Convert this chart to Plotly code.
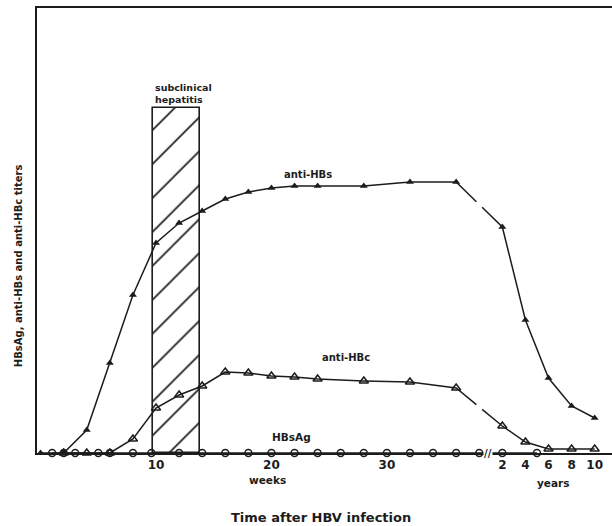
import plotly.graph_objects as go

# ---------------- data (titer in arbitrary relative units) ----------------
# weeks after infection
hbs_weeks = [0, 2, 4, 6, 8, 10, 12, 14, 16, 18, 20, 22, 24, 28, 32, 36]
anti_hbs_weeks_vals = [0, 0, 23, 90, 158, 210, 230, 242, 254, 261, 265, 267, 267, 267, 271, 271]
anti_hbs_years = [2, 4, 6, 8, 10]
anti_hbs_years_vals = [226, 133, 75, 47, 35]

hbc_weeks = [2, 4, 6, 8, 10, 12, 14, 16, 18, 20, 22, 24, 28, 32, 36]
anti_hbc_weeks_vals = [0, 0, 0, 14, 45, 58, 67, 81, 80, 77, 76, 74, 72, 71, 65]
anti_hbc_years = [2, 4, 6, 8, 10]
anti_hbc_years_vals = [27, 11, 4, 4, 4]

hbsag_weeks = [1, 2, 3, 5, 6, 8, 9.6, 12, 14, 16, 18, 20, 22, 24, 26, 28, 30, 32, 34, 36, 38]
hbsag_weeks_vals = [0] * len(hbsag_weeks)
hbsag_years = [2, 5]
hbsag_years_vals = [0, 0]

hepatitis_start, hepatitis_end = 9.75, 13.8   # weeks

tick_weeks = [10, 20, 30]
tick_years = [2, 4, 6, 8, 10]

# ---------------- axis mapping: years placed after the break ----------------
YEAR_OFFSET = 38          # compressed year scale starts after week 38
BREAK_AT = 38.0


def ypos(years):
    return [y + YEAR_OFFSET for y in years]


def broken_series(wx, wy, yx, yy, gap=0.25):
    """join week part and year part, leaving a small gap at the axis break"""
    x0, y0 = wx[-1], wy[-1]
    x1, y1 = yx[0], yy[0]
    fa = (BREAK_AT - gap - x0) / (x1 - x0)
    fb = (BREAK_AT + gap - x0) / (x1 - x0)
    xs = list(wx) + [x0 + fa * (x1 - x0), None, x0 + fb * (x1 - x0)] + list(yx)
    ys = list(wy) + [y0 + fa * (y1 - y0), None, y0 + fb * (y1 - y0)] + list(yy)
    return xs, ys


INK = "#1c1c1c"
FONT = "DejaVu Sans"

fig = go.Figure()

# hatched box: subclinical hepatitis
fig.add_trace(go.Bar(
    x=[(hepatitis_start + hepatitis_end) / 2], y=[345], base=0,
    width=[hepatitis_end - hepatitis_start],
    marker=dict(color="white", line=dict(color=INK, width=1.6),
                pattern=dict(shape="/", size=24, solidity=0.07, fgcolor=INK, fgopacity=1,
                             bgcolor="white")),
    showlegend=False, hoverinfo="skip"))

# lines (with break)
for wx, wy, yx, yy in [
    (hbs_weeks, anti_hbs_weeks_vals, ypos(anti_hbs_years), anti_hbs_years_vals),
    (hbc_weeks, anti_hbc_weeks_vals, ypos(anti_hbc_years), anti_hbc_years_vals),
]:
    xs, ys = broken_series(wx, wy, yx, yy)
    fig.add_trace(go.Scatter(x=xs, y=ys, mode="lines", line=dict(color=INK, width=1.5),
                             showlegend=False, hoverinfo="skip", cliponaxis=False))

# HBsAg baseline line
hx = hbsag_weeks + ypos(hbsag_years)
hy = hbsag_weeks_vals + hbsag_years_vals
fig.add_trace(go.Scatter(x=hx, y=hy, mode="lines+markers", line=dict(color=INK, width=1.5),
                         marker=dict(symbol="circle-open", size=7, color=INK, line=dict(width=1.5)),
                         name="HBsAg", showlegend=False, cliponaxis=False))

# markers
fig.add_trace(go.Scatter(x=hbc_weeks + ypos(anti_hbc_years), y=anti_hbc_weeks_vals + anti_hbc_years_vals,
                         mode="markers",
                         marker=dict(symbol="triangle-up-open", size=8, color=INK, line=dict(width=1.5)),
                         name="anti-HBc", showlegend=False, cliponaxis=False))
fig.add_trace(go.Scatter(x=hbs_weeks + ypos(anti_hbs_years), y=anti_hbs_weeks_vals + anti_hbs_years_vals,
                         mode="markers",
                         marker=dict(symbol="triangle-up", size=7, color=INK),
                         name="anti-HBs", showlegend=False, cliponaxis=False))

bold = dict(family=FONT, color=INK, weight="bold")

fig.update_layout(
    width=612, height=526,
    margin=dict(l=37, r=0, t=8, b=73),
    paper_bgcolor="white", plot_bgcolor="white",
    bargap=0,
    xaxis=dict(range=[-0.31, 49.5], showgrid=False, zeroline=False,
               showline=True, linecolor=INK, linewidth=1.6, mirror=True,
               tickvals=tick_weeks + ypos(tick_years),
               ticktext=[str(t) for t in tick_weeks] + [str(t) for t in tick_years],
               ticks="", tickfont=dict(size=12, **bold)),
    yaxis=dict(range=[0, 445], showgrid=False, zeroline=False,
               showline=True, linecolor=INK, linewidth=1.6,
               showticklabels=False, ticks=""),
    annotations=[
        dict(x=hepatitis_start, y=360, xref="x", yref="y", xanchor="left", yanchor="middle",
             text="subclinical<br>hepatitis", showarrow=False, align="left",
             font=dict(size=9.5, **bold)),
        dict(x=23.2, y=279, xref="x", yref="y", text="anti-HBs", showarrow=False,
             font=dict(size=10, **bold)),
        dict(x=26.5, y=96, xref="x", yref="y", text="anti-HBc", showarrow=False,
             font=dict(size=10, **bold)),
        dict(x=21.7, y=16, xref="x", yref="y", text="HBsAg", showarrow=False,
             font=dict(size=10.5, **bold)),
        dict(x=19.7, y=0, xref="x", yref="y", yshift=-27, text="weeks", showarrow=False,
             font=dict(size=10.5, **bold)),
        dict(x=44.4, y=0, xref="x", yref="y", yshift=-30, text="years", showarrow=False,
             font=dict(size=10.5, **bold)),
        dict(x=BREAK_AT + 0.8, y=0, xref="x", yref="y", text="//", showarrow=False,
             font=dict(size=10, **bold), bgcolor="white", borderpad=0),
        dict(x=0.494, y=0, xref="paper", yref="y", yshift=-64, text="Time after HBV infection",
             showarrow=False, font=dict(size=13, **bold)),
        dict(x=-0.046, y=0.42, xref="paper", yref="paper", textangle=-90,
             text="HBsAg, anti-HBs and anti-HBc titers", showarrow=False,
             font=dict(size=10, **bold)),
    ],
)

fig.write_html("out.html", config={"displayModeBar": False},
               post_script="document.body.style.margin='0';")
